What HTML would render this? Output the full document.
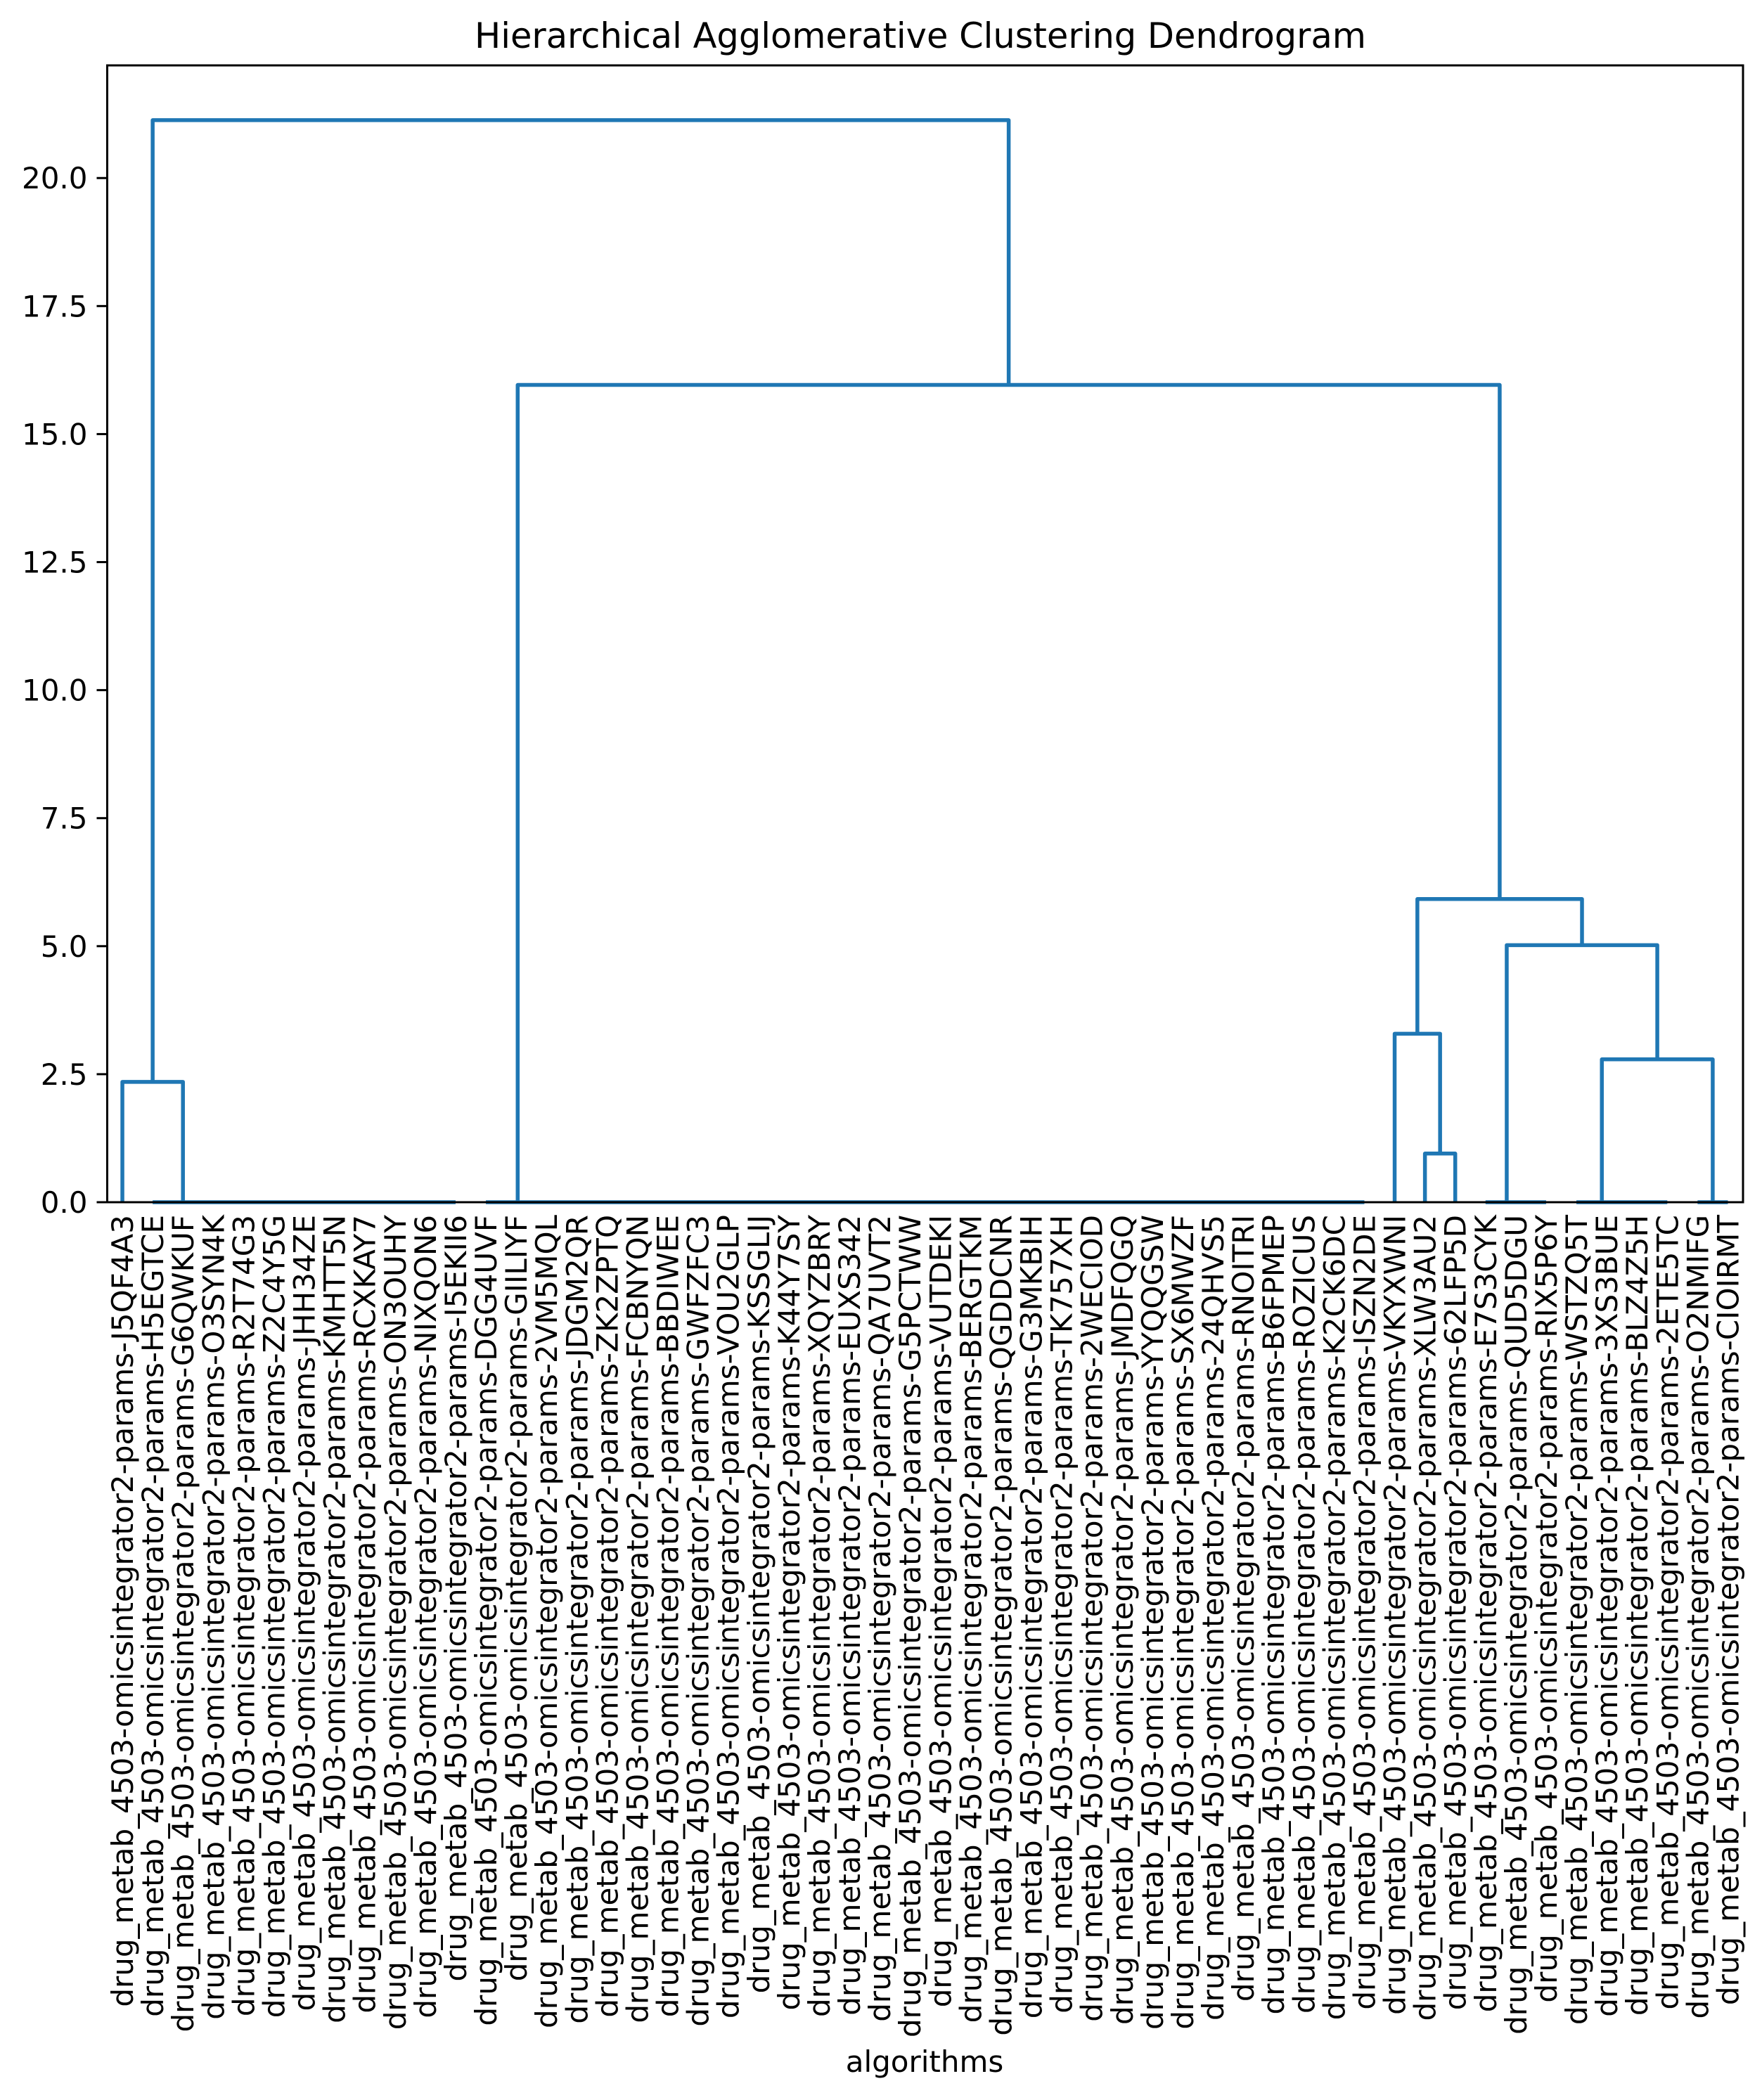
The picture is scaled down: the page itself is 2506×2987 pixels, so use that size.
<!DOCTYPE html>
<html><head><meta charset="utf-8"><style>
html,body{margin:0;padding:0;background:#fff;}
svg{display:block;}
text{font-family:"DejaVu Sans","Liberation Sans",sans-serif;fill:#000;}
</style></head><body>
<svg id="chart" width="2506" height="2987" viewBox="0 0 2506 2987" xmlns="http://www.w3.org/2000/svg">
<rect x="0" y="0" width="2506" height="2987" fill="#fff"/>
<text x="1309" y="68" font-size="50" text-anchor="middle" textLength="1268" lengthAdjust="spacingAndGlyphs">Hierarchical Agglomerative Clustering Dendrogram</text>
<text x="1315" y="2947" font-size="42" text-anchor="middle">algorithms</text>
<g id="links"></g>
<g id="yticks"></g>
<g id="xticks"></g>
<rect x="152.5" y="93" width="2326.5" height="1617" fill="none" stroke="#000" stroke-width="3"/>
</svg>
<script>
const leafIds = ["J5QF4A3","H5EGTCE","G6QWKUF","O3SYN4K","R2T74G3","Z2C4Y5G","JHH34ZE","KMHTT5N","RCXKAY7","ON3OUHY","NIXQON6","I5EKII6","DGG4UVF","GIILIYF","2VM5MQL","JDGM2QR","ZK2ZPTQ","FCBNYQN","BBDIWEE","GWFZFC3","VOU2GLP","KSSGLIJ","K44Y7SY","XQYZBRY","EUXS342","QA7UVT2","G5PCTWW","VUTDEKI","BERGTKM","QGDDCNR","G3MKBIH","TK757XH","2WECIOD","JMDFQGQ","YYQQGSW","SX6MWZF","24QHVS5","RNOITRI","B6FPMEP","ROZICUS","K2CK6DC","ISZN2DE","VKYXWNI","XLW3AU2","62LFP5D","E7S3CYK","QUD5DGU","RIX5P6Y","WSTZQ5T","3XS3BUE","BLZ4Z5H","2ETE5TC","O2NMIFG","CIOIRMT"];
// zero-height groups: first leaf index, last leaf index, center (leaf-index units)
const zeroFirst = [1, 12, 45, 48, 52];
const zeroLast = [11, 41, 47, 51, 53];
const zeroCenter = [2, 13.05, 45.7, 48.84, 52.5];
// merges: children refs ("L#" leaf, "Z#" zero group, "M#" merge), height
const mergeLeft = ["L43","L42","Z3","Z2","M1","Z1","L0","M6"];
const mergeRight = ["L44","M0","Z4","M2","M3","M4","Z0","M5"];
const mergeHeight = [0.95, 3.29, 2.79, 5.02, 5.92, 15.96, 2.35, 21.13];
const yTicks = [0, 2.5, 5, 7.5, 10, 12.5, 15, 17.5, 20];
const yTickLabels = ["0.0","2.5","5.0","7.5","10.0","12.5","15.0","17.5","20.0"];

const X0 = 152.5, X1 = 2479, Y0 = 1710, Y1 = 93;
const xMax = leafIds.length * 10, yMax = 22.2;
const xs = v => X0 + (v / xMax) * (X1 - X0);
const ys = v => Y0 - (v / yMax) * (Y0 - Y1);
const leafPos = i => 5 + 10 * i;
const NS = "http://www.w3.org/2000/svg";
const gL = document.getElementById("links");
const gY = document.getElementById("yticks");
const gX = document.getElementById("xticks");
const BLUE = "#1f77b4";

function node(ref) {
  const k = ref[0], i = +ref.slice(1);
  if (k === "L") return {x: leafPos(i), h: 0};
  if (k === "Z") return {x: leafPos(zeroCenter[i]) , h: 0};
  return {x: mergeX[i], h: mergeHeight[i]};
}
const mergeX = [];
for (let i = 0; i < mergeHeight.length; i++) {
  const a = node(mergeLeft[i]), b = node(mergeRight[i]);
  mergeX[i] = (a.x + b.x) / 2;
  const p = document.createElementNS(NS, "path");
  p.setAttribute("d", `M${xs(a.x)},${ys(a.h)} V${ys(mergeHeight[i])} H${xs(b.x)} V${ys(b.h)}`);
  p.setAttribute("fill", "none");
  p.setAttribute("stroke", BLUE);
  p.setAttribute("stroke-width", "5.5");
  p.setAttribute("stroke-linejoin", "round");
  
  
  gL.appendChild(p);
}
for (let i = 0; i < zeroFirst.length; i++) {
  const l = document.createElementNS(NS, "line");
  l.setAttribute("x1", xs(leafPos(zeroFirst[i])));
  l.setAttribute("x2", xs(leafPos(zeroLast[i])));
  l.setAttribute("y1", ys(0));
  l.setAttribute("y2", ys(0));
  l.setAttribute("stroke", BLUE);
  l.setAttribute("stroke-width", "5.5");
  
  
  gL.appendChild(l);
}
yTicks.forEach((v, i) => {
  const t = document.createElementNS(NS, "line");
  t.setAttribute("x1", X0 - 15); t.setAttribute("x2", X0);
  t.setAttribute("y1", ys(v)); t.setAttribute("y2", ys(v));
  t.setAttribute("stroke", "#000"); t.setAttribute("stroke-width", "3");
  
  
  gY.appendChild(t);
  const tx = document.createElementNS(NS, "text");
  tx.setAttribute("x", X0 - 28); tx.setAttribute("y", ys(v) + 15);
  tx.setAttribute("font-size", "42"); tx.setAttribute("text-anchor", "end");
  tx.textContent = yTickLabels[i];
  
  
  gY.appendChild(tx);
});
leafIds.forEach((id, i) => {
  const x = xs(leafPos(i));
  const tx = document.createElementNS(NS, "text");
  tx.setAttribute("transform", `translate(${x + 15},1728) rotate(-90)`);
  tx.setAttribute("font-size", "42"); tx.setAttribute("text-anchor", "end");
  tx.textContent = "drug_metab_4503-omicsintegrator2-params-" + id;
  
  
  gX.appendChild(tx);
});
</script>
</body></html>
